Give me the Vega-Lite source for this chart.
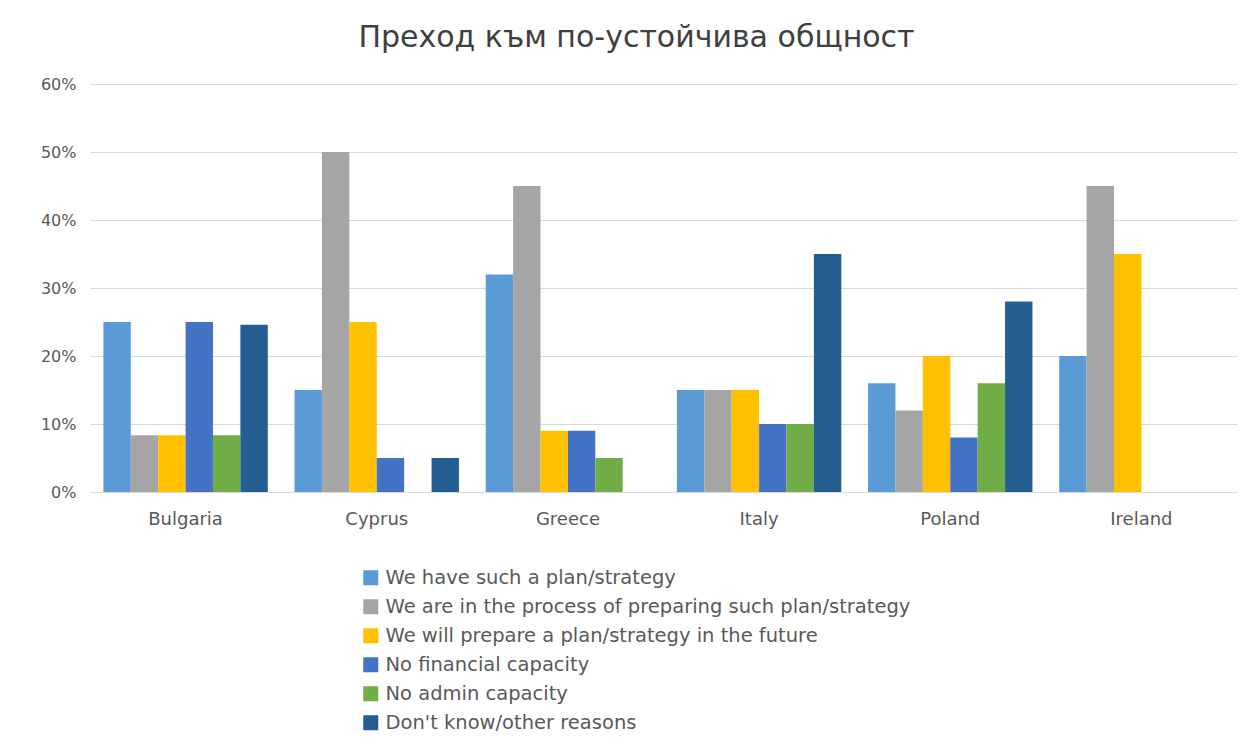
{
  "$schema": "https://vega.github.io/schema/vega-lite/v6.json",
  "width": 1147,
  "height": 408,
  "autosize": {"type": "none"},
  "padding": {"left": 90, "top": 84, "right": 13, "bottom": 262},
  "background": "white",
  "title": {
    "text": "Преход към по-устойчива общност",
    "font": "DejaVu Sans",
    "fontSize": 30,
    "fontWeight": "normal",
    "color": "#404040",
    "anchor": "middle",
    "dx": -27,
    "offset": 23
  },
  "data": {
    "values": [
      {"country": "Bulgaria", "answer": "We have such a plan/strategy", "value": 0.25},
      {"country": "Bulgaria", "answer": "We are in the process of preparing such plan/strategy", "value": 0.0833},
      {"country": "Bulgaria", "answer": "We will prepare a plan/strategy in the future", "value": 0.0833},
      {"country": "Bulgaria", "answer": "No financial capacity", "value": 0.25},
      {"country": "Bulgaria", "answer": "No admin capacity", "value": 0.0833},
      {"country": "Bulgaria", "answer": "Don't know/other reasons", "value": 0.246},
      {"country": "Cyprus", "answer": "We have such a plan/strategy", "value": 0.15},
      {"country": "Cyprus", "answer": "We are in the process of preparing such plan/strategy", "value": 0.5},
      {"country": "Cyprus", "answer": "We will prepare a plan/strategy in the future", "value": 0.25},
      {"country": "Cyprus", "answer": "No financial capacity", "value": 0.05},
      {"country": "Cyprus", "answer": "No admin capacity", "value": 0},
      {"country": "Cyprus", "answer": "Don't know/other reasons", "value": 0.05},
      {"country": "Greece", "answer": "We have such a plan/strategy", "value": 0.32},
      {"country": "Greece", "answer": "We are in the process of preparing such plan/strategy", "value": 0.45},
      {"country": "Greece", "answer": "We will prepare a plan/strategy in the future", "value": 0.09},
      {"country": "Greece", "answer": "No financial capacity", "value": 0.09},
      {"country": "Greece", "answer": "No admin capacity", "value": 0.05},
      {"country": "Greece", "answer": "Don't know/other reasons", "value": 0},
      {"country": "Italy", "answer": "We have such a plan/strategy", "value": 0.15},
      {"country": "Italy", "answer": "We are in the process of preparing such plan/strategy", "value": 0.15},
      {"country": "Italy", "answer": "We will prepare a plan/strategy in the future", "value": 0.15},
      {"country": "Italy", "answer": "No financial capacity", "value": 0.1},
      {"country": "Italy", "answer": "No admin capacity", "value": 0.1},
      {"country": "Italy", "answer": "Don't know/other reasons", "value": 0.35},
      {"country": "Poland", "answer": "We have such a plan/strategy", "value": 0.16},
      {"country": "Poland", "answer": "We are in the process of preparing such plan/strategy", "value": 0.12},
      {"country": "Poland", "answer": "We will prepare a plan/strategy in the future", "value": 0.2},
      {"country": "Poland", "answer": "No financial capacity", "value": 0.08},
      {"country": "Poland", "answer": "No admin capacity", "value": 0.16},
      {"country": "Poland", "answer": "Don't know/other reasons", "value": 0.28},
      {"country": "Ireland", "answer": "We have such a plan/strategy", "value": 0.2},
      {"country": "Ireland", "answer": "We are in the process of preparing such plan/strategy", "value": 0.45},
      {"country": "Ireland", "answer": "We will prepare a plan/strategy in the future", "value": 0.35},
      {"country": "Ireland", "answer": "No financial capacity", "value": 0},
      {"country": "Ireland", "answer": "No admin capacity", "value": 0},
      {"country": "Ireland", "answer": "Don't know/other reasons", "value": 0}
    ]
  },
  "mark": {"type": "bar"},
  "encoding": {
    "x": {
      "field": "country",
      "type": "nominal",
      "sort": ["Bulgaria", "Cyprus", "Greece", "Italy", "Poland", "Ireland"],
      "scale": {"paddingInner": 0.14, "paddingOuter": 0.07},
      "axis": {
        "title": null,
        "labelAngle": 0,
        "labelFont": "DejaVu Sans",
        "labelFontSize": 18,
        "labelColor": "#595959",
        "labelPadding": 18,
        "ticks": false,
        "domainColor": "#d9d9d9",
        "domainWidth": 1
      }
    },
    "xOffset": {
      "field": "answer",
      "type": "nominal",
      "sort": ["We have such a plan/strategy", "We are in the process of preparing such plan/strategy", "We will prepare a plan/strategy in the future", "No financial capacity", "No admin capacity", "Don't know/other reasons"],
      "scale": {"paddingInner": 0, "paddingOuter": 0}
    },
    "y": {
      "field": "value",
      "type": "quantitative",
      "scale": {"domain": [0, 0.6]},
      "axis": {
        "title": null,
        "format": ".0%",
        "values": [0, 0.1, 0.2, 0.3, 0.4, 0.5, 0.6],
        "labelFont": "DejaVu Sans",
        "labelFontSize": 16,
        "labelColor": "#595959",
        "labelPadding": 14,
        "ticks": false,
        "domain": false,
        "gridColor": "#d9d9d9",
        "gridWidth": 1
      }
    },
    "color": {
      "field": "answer",
      "type": "nominal",
      "sort": ["We have such a plan/strategy", "We are in the process of preparing such plan/strategy", "We will prepare a plan/strategy in the future", "No financial capacity", "No admin capacity", "Don't know/other reasons"],
      "scale": {
        "domain": ["We have such a plan/strategy", "We are in the process of preparing such plan/strategy", "We will prepare a plan/strategy in the future", "No financial capacity", "No admin capacity", "Don't know/other reasons"],
        "range": ["#5B9BD5", "#A5A5A5", "#FFC000", "#4472C4", "#70AD47", "#255E91"]
      },
      "legend": {
        "title": null,
        "orient": "none",
        "legendX": 271,
        "legendY": 484,
        "direction": "vertical",
        "symbolType": "square",
        "symbolSize": 225,
        "symbolStrokeWidth": 0,
        "labelFont": "DejaVu Sans",
        "labelFontSize": 19.5,
        "labelColor": "#595959",
        "labelOffset": 5,
        "labelLimit": 700,
        "rowPadding": 8,
        "padding": 0
      }
    }
  },
  "config": {
    "view": {"stroke": null}
  }
}
